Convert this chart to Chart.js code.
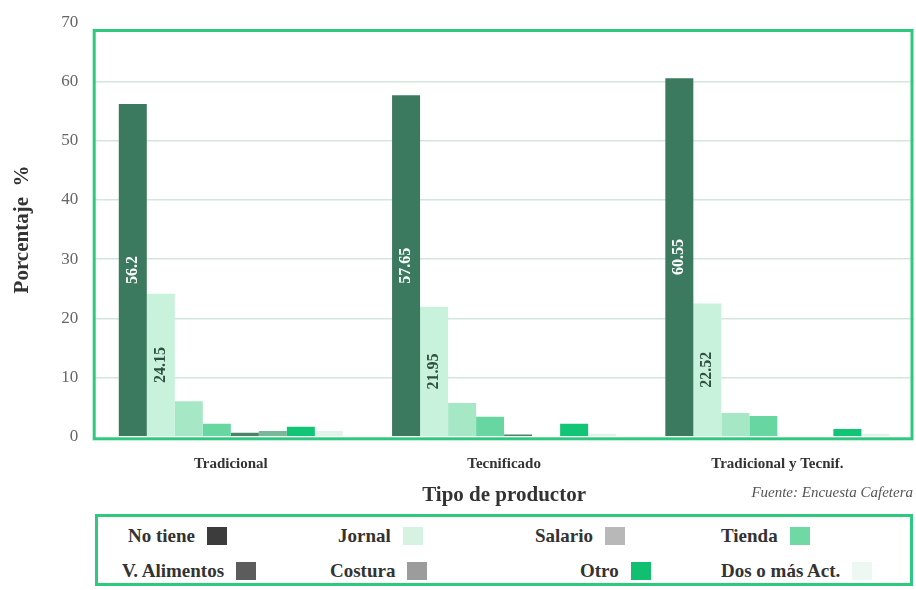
<!DOCTYPE html>
<html>
<head>
<meta charset="utf-8">
<script src="https://cdn.jsdelivr.net/npm/chart.js@4"></script>
<style>
  body { margin: 0; background: #fff; font-family: "Liberation Serif", serif; }
  #wrap { position: absolute; left: 0; top: -4px; width: 916px; height: 512px; }
  #legend {
    position: absolute; left: 95px; top: 514px; width: 818px; height: 72px;
    border: 3px solid #2ec97e; box-sizing: border-box;
  }
  #legend .item {
    position: absolute; font-weight: bold; font-size: 19px; color: #333;
    display: flex; align-items: center; white-space: nowrap;
  }
  #legend .sw { display: inline-block; width: 20px; height: 18px; margin-left: 12px; }
</style>
</head>
<body>
<div id="wrap"><canvas id="chart"></canvas></div>
<div id="legend"></div>
<script>
// data
const categories = ['Tradicional', 'Tecnificado', 'Tradicional y Tecnif.'];
const seriesNames = ['No tiene', 'Jornal', 'Salario', 'Tienda', 'V. Alimentos', 'Costura', 'Otro', 'Dos o más Act.'];
const noTiene    = [56.2, 57.65, 60.55];
const jornal     = [24.15, 21.95, 22.52];
const salario    = [6.0, 5.7, 4.0];
const tienda     = [2.2, 3.4, 3.5];
const vAlimentos = [0.7, 0.4, 0];
const costura    = [1.0, 0, 0];
const otro       = [1.7, 2.2, 1.3];
const dosOMas    = [1.0, 0.5, 0.5];
const yTicks     = [0, 10, 20, 30, 40, 50, 60, 70];

const seriesValues = [noTiene, jornal, salario, tienda, vAlimentos, costura, otro, dosOMas];
const barColors = ['#3b7a5e', '#c9f2dc', '#a6e8c6', '#68d6a0', '#4a8468', '#78b898', '#12c576', '#e2f3ea'];
const legendColors = ['#3c3c3c', '#d6f2e2', '#b8b8b8', '#6fd8a5', '#5c5c5c', '#9c9c9c', '#10c070', '#eef8f2'];

const SERIF = '"Liberation Serif", serif';

/* LEGEND (text first, then swatch) */
const legendPos = [
  [30, 8], [240, 8], [437, 8], [623, 8],
  [24, 43], [232, 43], [482, 43], [623, 43]
];
const legendBox = document.getElementById('legend');
seriesNames.forEach((name, i) => {
  const d = document.createElement('div');
  d.className = 'item';
  d.style.left = legendPos[i][0] + 'px';
  d.style.top = legendPos[i][1] + 'px';
  d.innerHTML = '<span>' + name + '</span><span class="sw" style="background:' + legendColors[i] + '"></span>';
  legendBox.appendChild(d);
});

/* PLUGINS */
const frameAndLabels = {
  id: 'frameAndLabels',
  afterDatasetsDraw(chart) {
    const ctx = chart.ctx;
    const a = chart.chartArea;
    const y = chart.scales.y;
    // green frame
    ctx.save();
    ctx.strokeStyle = '#2ec97e';
    ctx.lineWidth = 3;
    const top = y.getPixelForValue(68.6);
    ctx.strokeRect(a.left, top, a.right - a.left - 2, y.getPixelForValue(0) + 2 - top);
    ctx.restore();

    // rotated value labels on first two series
    [0, 1].forEach(di => {
      const meta = chart.getDatasetMeta(di);
      meta.data.forEach((bar, i) => {
        const v = chart.data.datasets[di].data[i];
        ctx.save();
        ctx.translate(bar.x, (bar.y + bar.base) / 2);
        ctx.rotate(-Math.PI / 2);
        ctx.font = 'bold 16px ' + SERIF;
        ctx.fillStyle = di === 0 ? '#ffffff' : '#2f4f40';
        ctx.textAlign = 'center';
        ctx.textBaseline = 'middle';
        ctx.fillText(String(v), 0, 0);
        ctx.restore();
      });
    });

    // source note
    ctx.save();
    ctx.font = 'italic 15px ' + SERIF;
    ctx.fillStyle = '#555';
    ctx.textAlign = 'right';
    ctx.textBaseline = 'middle';
    ctx.fillText('Fuente: Encuesta Cafetera', 913, 497);
    ctx.restore();
  }
};

/* CHART */
new Chart(document.getElementById('chart'), {
  type: 'bar',
  data: {
    labels: categories,
    datasets: seriesValues.map((vals, i) => ({
      label: seriesNames[i],
      data: vals,
      backgroundColor: barColors[i],
      borderWidth: 0,
      categoryPercentage: 0.82,
      barPercentage: 1.0
    }))
  },
  options: {
    responsive: true,
    maintainAspectRatio: false,
    animation: false,
    layout: { padding: { left: 10, right: 2, top: 5, bottom: 0 } },
    plugins: {
      legend: { display: false },
      tooltip: { enabled: false }
    },
    scales: {
      x: {
        grid: { display: false },
        border: { display: false },
        ticks: { color: '#333', padding: 10, font: { family: SERIF, size: 15, weight: 'bold' } },
        title: {
          display: true, text: 'Tipo de productor', color: '#333',
          font: { family: SERIF, size: 21, weight: 'bold' }, padding: { top: 0, bottom: 0 }
        }
      },
      y: {
        min: 0, max: 70,
        afterBuildTicks: axis => { axis.ticks = yTicks.map(v => ({ value: v })); },
        grid: {
          color: c => (c.tick.value === 0 || c.tick.value === 70) ? 'rgba(0,0,0,0)' : '#d4e6dc',
          lineWidth: 1.5,
          drawTicks: false
        },
        border: { display: false },
        ticks: { color: '#666', padding: 16, font: { family: SERIF, size: 17 } },
        title: {
          display: true, text: 'Porcentaje  %', color: '#333',
          font: { family: SERIF, size: 21, weight: 'bold' }, padding: { top: 0, bottom: 10 }
        }
      }
    }
  },
  plugins: [frameAndLabels]
});
</script>
</body>
</html>
